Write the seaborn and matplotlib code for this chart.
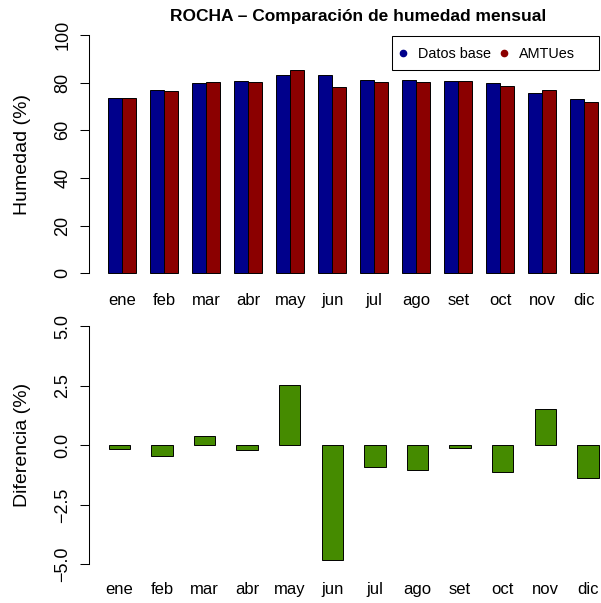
import matplotlib
matplotlib.use("Agg")
import matplotlib.pyplot as plt
from matplotlib.lines import Line2D
from matplotlib.patches import Rectangle
import seaborn as sns
import pandas as pd

months = ["ene", "feb", "mar", "abr", "may", "jun", "jul", "ago", "set", "oct", "nov", "dic"]
base = [73.7, 76.9, 79.9, 80.6, 83.1, 83.1, 81.2, 81.2, 80.8, 79.9, 75.5, 73.0]
amtues = [73.5, 76.4, 80.2, 80.3, 85.5, 78.1, 80.2, 80.1, 80.6, 78.8, 76.9, 71.7]
diff = [-0.15, -0.44, 0.41, -0.21, 2.52, -4.81, -0.92, -1.04, -0.10, -1.14, 1.52, -1.38]
series_names = ["Datos base", "AMTUes"]
colors = ["#00008B", "#8B0000"]
green = "#458B00"
yticks_top = [0, 20, 40, 60, 80, 100]
yticks_bot = [-5.0, -2.5, 0.0, 2.5, 5.0]

sns.set_style("white")
plt.rcParams["font.family"] = ["Liberation Sans", "DejaVu Sans"]
plt.rcParams.update({"text.color": "black", "axes.labelcolor": "black",
                     "xtick.color": "black", "ytick.color": "black"})

W, H = 601, 603
fig = plt.figure(figsize=(W / 100, H / 100), dpi=100)

def rect(left, top, right, bottom):
    return [left / W, 1 - bottom / H, (right - left) / W, (bottom - top) / H]

ax1 = fig.add_axes(rect(89, 25.5, 601, 282.8))
ax2 = fig.add_axes(rect(89, 316.7, 601, 573.9))

df = pd.DataFrame({
    "mes": months * 2,
    "valor": base + amtues,
    "serie": [series_names[0]] * 12 + [series_names[1]] * 12,
})
sns.barplot(data=df, x="mes", y="valor", hue="serie", order=months,
            hue_order=series_names, palette=colors, width=2 / 3, gap=0,
            saturation=1, edgecolor="black", linewidth=0.7, legend=False,
            errorbar=None, ax=ax1)

df2 = pd.DataFrame({"mes": months, "dif": diff})
sns.barplot(data=df2, x="mes", y="dif", order=months, color=green, width=0.5,
            saturation=1, edgecolor="black", linewidth=0.7, errorbar=None, ax=ax2)

for ax, yt, lab, xl, yl, xpad in [
    (ax1, yticks_top, "Humedad (%)", (-0.793, 11.40), (-4, 104), 7),
    (ax2, yticks_bot, "Diferencia (%)", (-0.711, 11.307), (-5.4, 5.4), 5.5),
]:
    ax.set_xlim(*xl)
    ax.set_ylim(*yl)
    for s in ["top", "right", "bottom"]:
        ax.spines[s].set_visible(False)
    ax.spines["left"].set_bounds(yt[0], yt[-1])
    ax.spines["left"].set_color("black")
    ax.spines["left"].set_linewidth(0.75)
    ax.set_yticks(yt)
    if ax is ax2:
        ax.set_yticklabels([f"{v:.1f}".replace("-", "\u2212") for v in yt])
    ax.tick_params(axis="y", which="major", length=6.7, width=0.75, color="black",
                   direction="out", left=True, pad=6, labelsize=13,
                   labelrotation=90, labelcolor="black")
    for t in ax.get_yticklabels():
        t.set_va("center")
    ax.tick_params(axis="x", length=0, pad=xpad, labelsize=12, labelcolor="black")
    ax.set_xlabel("")
    ax.set_ylabel(lab, fontsize=14, color="black")
    ax.yaxis.label.set_va("center")
    ax.yaxis.set_label_coords((23 - 89) / 512, 0.5)
    ax.grid(False)

fig.text(358 / W, 1 - 17 / H, "ROCHA \u2013 Comparación de humedad mensual",
         ha="center", va="center", fontsize=12.5, fontweight="bold", color="black")

# legend box (manual layout, as in the reference)
fig.patches.append(Rectangle((392 / W, 1 - 70 / H), (599 - 392) / W, 34 / H,
                             transform=fig.transFigure, facecolor="white",
                             edgecolor="black", linewidth=0.75, zorder=5))
for xd, xt, c, name in [(403, 418, colors[0], series_names[0]),
                        (504, 519, colors[1], series_names[1])]:
    fig.add_artist(Line2D([xd / W], [1 - 53 / H], transform=fig.transFigure,
                          linestyle="none", marker="o", markersize=4.5,
                          markerfacecolor=c, markeredgecolor=c, zorder=6))
    fig.text(xt / W, 1 - 53 / H, name, ha="left", va="center_baseline",
             fontsize=10.4, color="black", zorder=6)

fig.savefig("out.png", dpi=100)
